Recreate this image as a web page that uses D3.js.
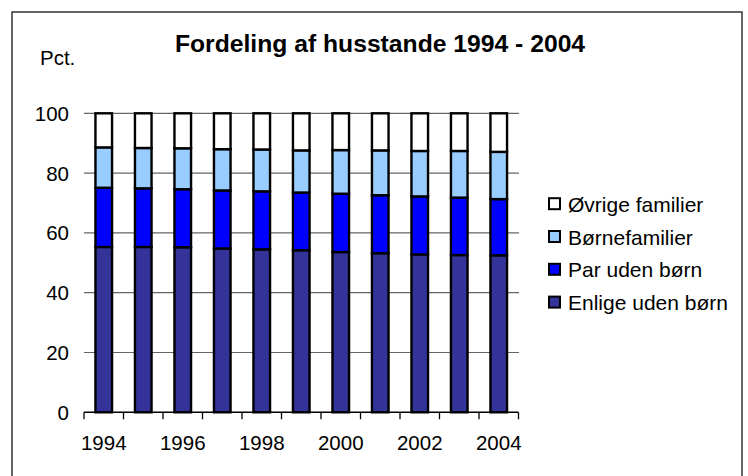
<!DOCTYPE html>
<html><head><meta charset="utf-8">
<script src="https://cdn.jsdelivr.net/npm/d3@7/dist/d3.min.js"></script>
<style>
html,body{margin:0;padding:0;background:#fff;}
svg{display:block;font-family:"Liberation Sans",Arial,sans-serif;}
</style></head>
<body><svg id="c" width="748" height="476"></svg>
<script>
const years = ["1994","1995","1996","1997","1998","1999","2000","2001","2002","2003","2004"];
const tickLabels = ["1994","1996","1998","2000","2002","2004"];
const yTicks = [0,20,40,60,80,100];
const seriesNames = ["Enlige uden børn","Par uden børn","Børnefamilier","Øvrige familier"];
const enlige  = [55.3,55.3,55.2,54.8,54.5,54.2,53.6,53.2,52.8,52.6,52.5];
const par     = [19.8,19.6,19.4,19.4,19.4,19.3,19.5,19.4,19.4,19.2,18.8];
const boerne  = [13.5,13.5,13.7,13.8,14.0,14.1,14.6,15.0,15.2,15.6,15.8];
const oevrige = [11.4,11.6,11.7,12.0,12.1,12.4,12.3,12.4,12.6,12.6,12.9];
const colors = ["#333399","#0000FF","#99CCFF","#FFFFFF"];

const svg = d3.select("#c");
// outer border
svg.append("rect").attr("x",12).attr("y",12).attr("width",730).attr("height",480)
  .attr("fill","#fff").attr("stroke","#333").attr("stroke-width",1.5);

const x = d3.scaleBand().domain(years).range([84,518.5]).paddingInner(0.58).paddingOuter(0.29);
const y = d3.scaleLinear().domain([0,100]).range([412.3,113.3]);

// gridlines
svg.append("g").selectAll("line").data(yTicks.filter(d=>d>0)).join("line")
  .attr("x1",84).attr("x2",519).attr("y1",d=>y(d)).attr("y2",d=>y(d))
  .attr("stroke","#666").attr("stroke-width",1.2);

// y labels
svg.append("g").selectAll("text").data(yTicks).join("text")
  .attr("x",69).attr("y",d=>y(d)+7.5).attr("text-anchor","end")
  .attr("font-size",20.5).attr("fill","#000").text(d=>d);

// stacked data
const table = years.map((yr,i)=>({year:yr, s0:enlige[i], s1:par[i], s2:boerne[i], s3:oevrige[i]}));
const stack = d3.stack().keys(["s0","s1","s2","s3"])(table);

svg.append("g").selectAll("g").data(stack).join("g")
  .attr("fill",(d,i)=>colors[i])
  .selectAll("rect").data(d=>d).join("rect")
  .attr("x",d=>x(d.data.year)).attr("width",x.bandwidth())
  .attr("y",d=>y(d[1])).attr("height",d=>y(d[0])-y(d[1]))
  .attr("stroke","#000").attr("stroke-width",2.4);

// x axis line & ticks
const step = x.step();
const bounds = years.map(yr=>x(yr)-step*0.29).concat([x(years[years.length-1])+x.bandwidth()+step*0.29]);
svg.append("line").attr("x1",84).attr("x2",518.5).attr("y1",y(0)).attr("y2",y(0))
  .attr("stroke","#000").attr("stroke-width",1.5);
svg.append("g").selectAll("line").data(bounds).join("line")
  .attr("x1",d=>d).attr("x2",d=>d).attr("y1",y(0)).attr("y2",y(0)+7)
  .attr("stroke","#000").attr("stroke-width",1.3);
svg.append("g").selectAll("text").data(tickLabels).join("text")
  .attr("x",d=>x(d)+x.bandwidth()/2).attr("y",450).attr("text-anchor","middle")
  .attr("font-size",20.5).attr("fill","#000").text(d=>d);

// title & unit
svg.append("text").attr("x",380).attr("y",52).attr("text-anchor","middle")
  .attr("font-size",24.7).attr("font-weight","bold").text("Fordeling af husstande 1994 - 2004");
svg.append("text").attr("x",40).attr("y",65).attr("font-size",20.5).text("Pct.");

// legend
const legendOrder = [3,2,1,0];
const lg = svg.append("g").selectAll("g").data(legendOrder).join("g")
  .attr("transform",(d,i)=>`translate(549,${211.7+i*32.8})`);
lg.append("rect").attr("x",0).attr("y",-13.5).attr("width",11).attr("height",11)
  .attr("fill",d=>colors[d]).attr("stroke","#000").attr("stroke-width",2);
lg.append("text").attr("x",19).attr("y",0).attr("font-size",21).text(d=>seriesNames[d]);
</script></body></html>
